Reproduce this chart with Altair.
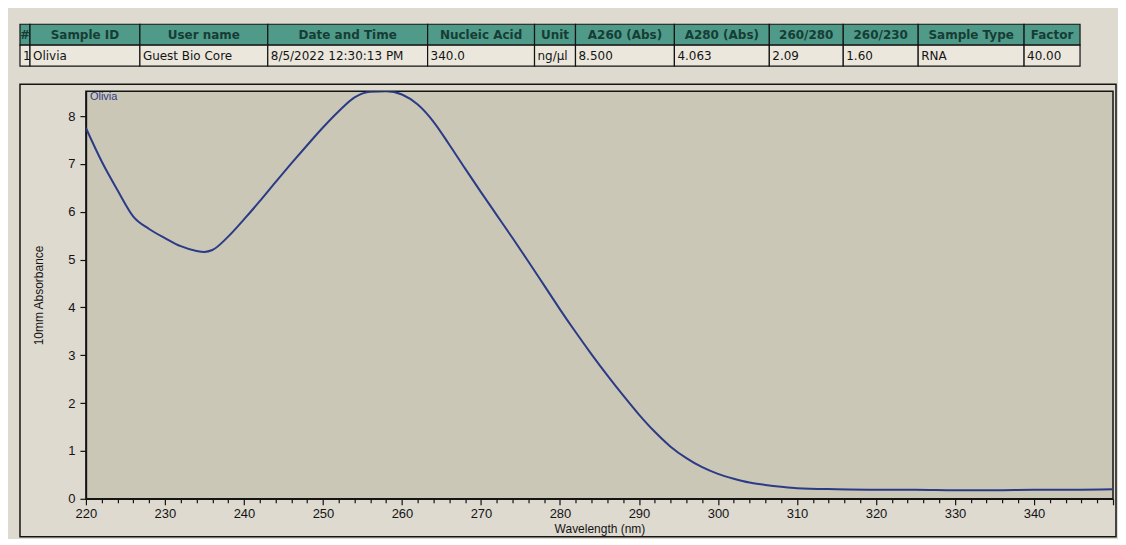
import altair as alt
import pandas as pd

# ---------------- data ----------------
HEADERS = ["#", "Sample ID", "User name", "Date and Time", "Nucleic Acid", "Unit",
           "A260 (Abs)", "A280 (Abs)", "260/280", "260/230", "Sample Type", "Factor"]
VALUES = ["1", "Olivia", "Guest Bio Core", "8/5/2022 12:30:13 PM", "340.0", "ng/µl",
          "8.500", "4.063", "2.09", "1.60", "RNA", "40.00"]

SAMPLE = "Olivia"
WAVELENGTH = [220, 222, 224, 226, 228, 230, 232, 234, 235, 236, 238, 240, 242, 244,
              246, 248, 250, 252, 254, 256, 258, 260, 262, 264, 266, 268, 270, 272,
              274, 276, 278, 280, 282, 284, 286, 288, 290, 292, 294, 296, 298, 300,
              302, 304, 306, 308, 310, 315, 320, 325, 330, 335, 340, 345, 350]
ABSORBANCE = [7.75, 7.05, 6.45, 5.90, 5.64, 5.45, 5.28, 5.18, 5.16, 5.20, 5.48, 5.84,
              6.22, 6.62, 7.01, 7.39, 7.76, 8.10, 8.39, 8.51, 8.52, 8.45, 8.24, 7.88,
              7.40, 6.90, 6.41, 5.93, 5.45, 4.96, 4.46, 3.96, 3.48, 3.02, 2.58, 2.16,
              1.76, 1.40, 1.09, 0.85, 0.66, 0.52, 0.42, 0.34, 0.29, 0.25, 0.22, 0.20,
              0.19, 0.19, 0.18, 0.18, 0.19, 0.19, 0.20]

X_TICKS = list(range(220, 351, 2))
Y_TICKS = [0, 1, 2, 3, 4, 5, 6, 7, 8]

# ---------------- layout / style ----------------
COL_WIDTHS = [10, 110, 128, 160, 107, 41, 99, 95, 74, 75, 106, 56]
TABLE_W = sum(COL_WIDTHS)
TABLE_H = 42
LEFT_EXT = 66          # space between outer frame and plot area
PLOT_W = 1028
PLOT_H = 408

BG = "#dedad0"
VIEW_FILL = "#cbc7b7"
HEAD_FILL = "#4f9a89"
HEAD_TEXT = "#163d35"
CELL_FILL = "#ebe7dc"
LINE_COLOR = "#2b3b86"
INK = "#141414"

# ---------------- table ----------------
rows = []
start = 0
for h, v, w in zip(HEADERS, VALUES, COL_WIDTHS):
    rows.append({"row": "header", "text": h, "x0": start, "x1": start + w, "xc": start + w / 2})
    rows.append({"row": "data", "text": v, "x0": start, "x1": start + w, "xc": start + w / 2})
    start += w
tdf = pd.DataFrame(rows)

tx_scale = alt.Scale(domain=[0, TABLE_W], range=[-LEFT_EXT, TABLE_W - LEFT_EXT], nice=False, zero=False)
ty = alt.Y("row:N", scale=alt.Scale(domain=["header", "data"], paddingInner=0, paddingOuter=0), axis=None)

cells = alt.Chart(tdf).mark_rect(stroke=INK, strokeWidth=1.2, clip=False).encode(
    x=alt.X("x0:Q", scale=tx_scale, axis=None),
    x2="x1:Q",
    y=ty,
    fill=alt.Fill("row:N", scale=alt.Scale(domain=["header", "data"], range=[HEAD_FILL, CELL_FILL]), legend=None),
)
head_text = alt.Chart(tdf).transform_filter("datum.row === 'header'").mark_text(
    font="DejaVu Sans", fontSize=12, fontWeight="bold", color=HEAD_TEXT, align="center", baseline="middle"
).encode(x=alt.X("xc:Q", scale=tx_scale, axis=None), y=ty, text="text:N")
data_text = alt.Chart(tdf).transform_filter("datum.row === 'data'").mark_text(
    font="DejaVu Sans", fontSize=12, color=INK, align="left", baseline="middle", dx=3
).encode(x=alt.X("x0:Q", scale=tx_scale, axis=None), y=ty, text="text:N")

table = alt.layer(cells, head_text, data_text).properties(
    width=TABLE_W - LEFT_EXT, height=TABLE_H, view=alt.ViewBackground(stroke="transparent")
)

# ---------------- spectrum ----------------
df = pd.DataFrame({"wavelength": WAVELENGTH, "absorbance": ABSORBANCE, "sample": SAMPLE})
one = pd.DataFrame({"sample": [SAMPLE]})

x_enc = alt.X(
    "wavelength:Q",
    scale=alt.Scale(domain=[220, 350], nice=False, zero=False),
    axis=alt.Axis(
        title="Wavelength (nm)", values=X_TICKS, format="d",
        labelExpr="datum.value % 10 === 0 && datum.value < 350 ? datum.label : ''",
        tickSize={"condition": {"test": "datum.value % 10 === 0", "value": 6}, "value": 4},
        labelOverlap=False, labelFlush=False, labelPadding=3, titlePadding=3,
    ),
)
y_enc = alt.Y(
    "absorbance:Q",
    scale=alt.Scale(domain=[0, 8.52], nice=False, zero=True),
    axis=alt.Axis(title="10mm Absorbance", values=Y_TICKS, format="d", tickSize=6,
                  labelFlush=False, labelPadding=5, titlePadding=22),
)

line = alt.Chart(df).mark_line(color=LINE_COLOR, strokeWidth=2, interpolate="monotone", clip=True).encode(
    x=x_enc, y=y_enc, detail="sample:N"
)
label = alt.Chart(one).mark_text(
    font="Liberation Sans", fontSize=11, color=LINE_COLOR, align="left", baseline="top"
).encode(x=alt.value(4), y=alt.value(0), text="sample:N")
frame = alt.Chart(one).mark_rect(fillOpacity=0, stroke=INK, strokeWidth=1.5, clip=False).encode(
    x=alt.value(-LEFT_EXT), x2=alt.value(PLOT_W + 3), y=alt.value(-7), y2=alt.value(PLOT_H + 38)
)

spectrum = alt.layer(frame, line, label).properties(
    width=PLOT_W, height=PLOT_H,
    view=alt.ViewBackground(fill=VIEW_FILL, stroke=INK, strokeWidth=1.5),
)

chart = alt.vconcat(table, spectrum, spacing=14).properties(
    background=BG,
    padding={"left": 10, "top": 14, "right": 0, "bottom": 0},
).configure_axis(
    grid=False, domainColor=INK, domainWidth=1.5, tickColor=INK, tickWidth=1.2,
    labelColor=INK, labelFont="Liberation Sans", labelFontSize=13,
    titleColor=INK, titleFont="Liberation Sans", titleFontSize=12, titleFontWeight="normal",
)

chart.save("out.html", embed_options={"renderer": "svg", "actions": False})
